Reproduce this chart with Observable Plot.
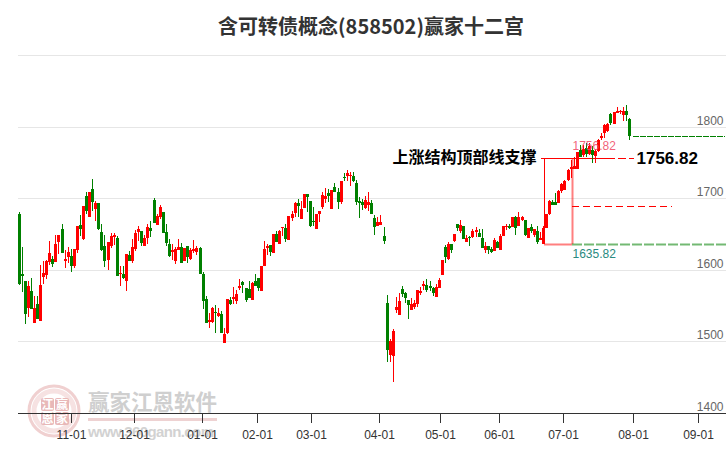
<!DOCTYPE html>
<html lang="zh">
<head>
<meta charset="utf-8">
<style>
html,body{margin:0;padding:0;background:#fff;width:726px;height:450px;overflow:hidden}
#title{height:46px;text-align:center;font:bold 20px/52px "Noto Sans CJK SC",sans-serif;color:#333;padding-left:16px;box-sizing:border-box;width:726px}
#chart{position:relative;z-index:1}
#wm{position:absolute;left:0;top:380px;z-index:0}
</style>
<script src="https://cdn.jsdelivr.net/npm/d3@7"></script>
<script src="https://cdn.jsdelivr.net/npm/@observablehq/plot@0.6"></script>
</head>
<body>
<div id="title">含可转债概念(858502)赢家十二宫</div>
<svg id="wm" width="240" height="70" viewBox="0 0 240 70">
  <circle cx="54" cy="31" r="25" fill="none" stroke="#f0d0d0" stroke-width="3"/>
  <circle cx="54" cy="31" r="20" fill="none" stroke="#f6e2e2" stroke-width="5"/>
  <g fill="#e8b8b8">
    <rect x="41" y="18" width="13" height="13" rx="2"/><rect x="55" y="18" width="14" height="13" rx="2"/>
    <rect x="41" y="32" width="13" height="13" rx="2"/><rect x="55" y="32" width="14" height="13" rx="2"/>
  </g>
  <g fill="#fff" font-family="Noto Sans CJK SC" font-size="12" font-weight="700" text-anchor="middle">
    <text x="47.5" y="29">江</text><text x="62" y="29">赢</text>
    <text x="47.5" y="43">恩</text><text x="62" y="43">家</text>
  </g>
  <text x="88" y="30" font-family="Noto Sans CJK SC" font-size="21.5" font-weight="700" fill="#cfcfcf">赢家江恩软件</text>
  <rect x="88" y="38" width="129" height="3" fill="#eed2d2"/>
  <text x="88" y="57" font-family="Liberation Sans" font-size="15" font-weight="700" fill="#d2d2d2" textLength="126">www.360gann.com</text>
</svg>
<div id="chart"></div>
<script>
const high = [1681.0,1631.7,1584.7,1584.7,1588.9,1563.8,1563.8,1606.6,1612.1,1614.0,
1640.5,1619.6,1648.9,1648.9,1664.2,1628.0,1631.7,1629.3,1629.3,1661.4,
1676.8,1689.3,1708.9,1708.9,1727.0,1695.8,1693.5,1664.2,1648.9,1639.1,
1651.7,1651.7,1647.5,1605.6,1605.6,1622.4,1626.6,1643.3,1655.9,1661.4,
1654.5,1648.9,1664.2,1668.4,1700.5,1678.2,1690.7,1681.0,1664.2,1643.3,
1636.3,1632.1,1643.3,1637.7,1630.7,1633.5,1630.7,1641.9,1633.5,1632.1,
1597.3,1563.8,1540.1,1548.4,1551.2,1547.0,1542.9,1519.1,1559.6,1562.4,
1576.4,1572.2,1587.5,1584.7,1574.9,1584.7,1583.3,1594.5,1588.9,1605.6,
1640.5,1636.3,1634.9,1650.3,1654.5,1655.9,1660.0,1664.2,1675.4,1682.4,
1694.9,1699.1,1696.3,1706.1,1706.1,1696.3,1687.9,1678.2,1682.4,1708.9,
1714.4,1713.0,1711.6,1721.4,1714.4,1724.2,1735.4,1739.6,1736.8,1736.8,
1725.6,1701.9,1699.1,1703.3,1708.9,1697.7,1676.8,1674.0,1676.8,1660.0,
1565.5,1504.0,1518.0,1562.7,1566.9,1576.7,1568.3,1558.5,1561.3,1558.5,
1571.1,1575.3,1583.7,1586.5,1583.7,1575.3,1579.5,1587.9,1613.1,1634.1,
1638.3,1635.5,1649.4,1663.4,1669.0,1660.6,1648.0,1646.7,1656.4,1659.2,
1656.4,1656.4,1638.3,1632.7,1631.3,1643.9,1639.7,1649.4,1660.6,1663.4,
1663.4,1673.2,1674.6,1680.2,1674.6,1669.0,1657.8,1663.4,1656.4,1660.6,
1652.2,1660.6,1677.9,1697.5,1698.0,1707.3,1711.9,1720.8,1725.5,1741.3,
1753.9,1757.6,1764.6,1774.9,1774.9,1777.2,1777.2,1772.5,1768.8,1782.8,
1791.2,1804.2,1805.2,1819.2,1821.0,1827.5,1823.8,1827.5,1830.8,1812.2];
const bodyTop = [1678.2,1594.0,1584.7,1577.7,1570.8,1547.0,1552.6,1579.1,1595.4,1612.1,
1623.3,1614.9,1636.3,1648.9,1657.2,1615.4,1624.7,1619.6,1629.3,1661.4,
1662.8,1689.3,1703.3,1708.9,1713.0,1693.5,1693.5,1653.0,1633.5,1639.1,
1647.5,1648.9,1644.2,1595.9,1594.5,1622.4,1620.5,1632.1,1651.7,1657.2,
1654.5,1644.7,1660.0,1658.6,1697.7,1675.4,1687.9,1681.0,1653.0,1636.3,
1628.0,1629.3,1632.1,1632.1,1630.7,1633.5,1628.0,1629.3,1630.7,1630.7,
1594.5,1559.6,1530.3,1547.0,1541.5,1540.1,1538.7,1510.8,1559.6,1558.2,
1562.4,1566.6,1577.7,1583.3,1574.9,1573.5,1581.9,1584.7,1588.9,1605.6,
1629.3,1633.5,1634.9,1650.3,1650.3,1654.5,1660.0,1658.6,1675.4,1678.2,
1693.5,1693.5,1685.1,1706.1,1706.1,1696.3,1668.4,1678.2,1682.4,1704.7,
1703.3,1707.5,1711.6,1715.8,1708.9,1724.2,1729.8,1735.4,1732.6,1731.2,
1721.4,1696.3,1694.9,1697.7,1694.9,1693.5,1672.6,1667.0,1667.0,1647.5,
1554.3,1501.2,1515.2,1547.4,1557.1,1572.5,1566.9,1558.5,1552.9,1554.3,
1571.1,1569.7,1579.5,1578.1,1576.7,1573.9,1575.3,1585.1,1613.1,1631.3,
1635.5,1635.5,1649.4,1663.4,1662.0,1660.6,1643.9,1645.3,1654.6,1655.0,
1650.8,1643.9,1632.7,1632.7,1628.5,1641.1,1638.3,1646.7,1660.6,1660.6,
1660.6,1673.2,1673.2,1673.2,1673.2,1669.0,1657.8,1659.2,1656.4,1653.6,
1643.9,1657.8,1677.9,1696.5,1695.1,1695.1,1710.5,1719.9,1724.5,1739.9,
1743.2,1745.0,1764.6,1767.9,1768.8,1770.2,1772.5,1767.9,1766.5,1780.9,
1787.4,1802.8,1803.8,1818.2,1820.1,1822.4,1822.4,1822.4,1822.4,1811.2];
const bodyBottom = [1579.6,1590.8,1537.7,1546.1,1544.7,1525.2,1530.8,1528.0,1589.8,1592.2,
1610.7,1607.5,1610.3,1638.2,1622.8,1611.7,1617.3,1604.7,1605.6,1627.0,
1656.8,1643.3,1682.8,1674.4,1694.0,1685.6,1657.2,1627.0,1611.7,1613.1,
1633.5,1646.1,1590.8,1594.5,1588.9,1583.8,1611.7,1611.7,1629.3,1652.1,
1637.7,1633.5,1644.7,1654.5,1665.6,1662.8,1674.0,1651.7,1637.7,1619.6,
1625.2,1612.6,1628.0,1609.8,1612.6,1618.2,1615.4,1626.6,1625.2,1594.5,
1555.9,1526.1,1527.5,1527.5,1540.1,1535.9,1512.2,1498.2,1512.2,1552.6,
1559.6,1556.8,1574.9,1579.1,1558.2,1561.0,1558.2,1577.7,1574.9,1570.8,
1605.6,1630.7,1625.2,1623.8,1639.1,1636.3,1658.6,1643.3,1641.9,1672.6,
1679.6,1689.3,1671.2,1686.5,1701.9,1661.4,1667.0,1657.2,1678.2,1687.9,
1699.1,1703.3,1685.1,1708.9,1694.9,1694.9,1728.4,1731.2,1731.2,1724.2,
1694.9,1693.5,1690.7,1686.5,1690.7,1678.2,1660.0,1661.4,1662.8,1640.5,
1487.7,1480.7,1479.3,1543.2,1536.6,1566.0,1561.3,1551.5,1543.2,1548.7,
1552.9,1566.9,1576.7,1571.1,1573.9,1566.9,1562.7,1573.9,1592.1,1617.3,
1614.5,1627.1,1639.6,1657.8,1653.6,1642.5,1638.3,1644.3,1645.3,1652.2,
1645.3,1629.9,1627.1,1627.1,1624.3,1625.7,1629.9,1627.1,1646.7,1659.2,
1657.8,1659.2,1657.8,1660.6,1669.0,1648.0,1643.9,1653.6,1648.0,1638.3,
1641.1,1635.5,1658.3,1677.9,1691.0,1691.0,1692.8,1709.6,1711.5,1725.0,
1740.4,1740.4,1740.4,1757.6,1760.4,1761.8,1762.3,1760.9,1759.5,1765.5,
1784.2,1791.2,1793.5,1805.2,1804.2,1819.2,1820.6,1816.4,1815.9,1787.4];
const low = [1578.2,1568.4,1523.8,1533.6,1544.7,1525.2,1530.8,1528.0,1579.6,1586.6,
1606.1,1603.3,1610.3,1621.4,1622.8,1602.8,1608.9,1597.3,1602.8,1622.8,
1647.5,1641.9,1678.2,1674.4,1682.8,1668.4,1655.9,1626.6,1604.2,1600.0,
1630.3,1634.9,1590.8,1577.7,1587.5,1570.8,1611.7,1609.8,1626.6,1640.5,
1633.5,1633.5,1636.3,1646.1,1665.6,1662.8,1671.2,1651.7,1633.5,1618.2,
1614.0,1608.4,1628.0,1609.8,1612.6,1609.8,1614.0,1623.8,1621.0,1594.5,
1545.6,1526.1,1519.1,1526.1,1512.2,1534.5,1512.2,1498.2,1510.8,1551.2,
1552.6,1552.6,1572.2,1568.0,1555.4,1561.0,1558.2,1577.7,1570.8,1570.8,
1605.6,1621.0,1619.6,1623.8,1639.1,1636.3,1647.5,1639.1,1641.9,1668.4,
1674.0,1674.0,1671.2,1686.5,1681.0,1660.0,1661.4,1657.2,1667.0,1685.1,
1693.5,1694.9,1685.1,1708.9,1685.1,1692.1,1724.2,1724.2,1717.2,1722.8,
1690.7,1672.6,1683.8,1685.1,1682.4,1678.2,1648.9,1661.4,1662.8,1636.3,
1471.8,1471.8,1443.8,1539.0,1536.6,1562.7,1554.3,1530.6,1543.2,1545.9,
1548.7,1565.5,1571.1,1568.3,1569.7,1564.1,1562.7,1573.9,1592.1,1608.9,
1613.1,1622.9,1638.3,1653.6,1650.8,1642.5,1638.3,1632.7,1643.9,1645.3,
1645.3,1629.9,1622.9,1621.5,1622.9,1625.7,1629.9,1627.1,1646.7,1655.0,
1656.4,1659.2,1648.0,1660.6,1667.6,1646.7,1643.9,1650.8,1645.3,1635.5,
1641.1,1635.5,1658.3,1677.0,1690.0,1690.0,1692.8,1706.8,1711.5,1723.6,
1728.2,1740.4,1740.4,1757.6,1757.6,1757.6,1760.9,1749.2,1749.2,1764.1,
1780.9,1784.2,1792.1,1802.8,1804.2,1819.2,1818.2,1807.5,1807.5,1780.9];
// R = close above open (red), G = close below open (green)
const direction = "GGGRGRGRRR"+"RGRRGRRGRR"+"GRGRGRGGGR"+"RRGRGRGRRR"+"GRRGGRRGGG"+"RRRGRGRRRG"+"GGRRGRGRRG"+"RRRGGGRGGR"+"RRGRGRRGRR"+"RGRRGGGRRR"
  +"RGRGGRGRRG"+"GGGRRGGRRG"+"GRRRRGGGRR"+"RRRGGGRRRG"+"RGRGRGRGRR"+"GGRGGRGRRR"+"GRGRRGRGRG"+"RRRRGGRRRR"+"RRRGRGRGRR"+"RRRGRRRRGG";

const monthLabels = ["11-01","12-01","01-01","02-01","03-01","04-01","05-01","06-01","07-01","08-01","09-01"];
const monthIndex = [17.1,37.6,59.8,77.7,95.3,117.5,137.4,156.6,177.5,200.3,221.5];
const priceTicks = [1800,1700,1600,1500,1400];
const gridPrices = [1900,1800,1700,1600,1500];

const topPrice = 1756.82, midPrice = 1689.3, basePrice = 1635.82, lastClose = 1787.4;
const xLeft = 171.3, xRight = 180.5;

const idx = d3.range(high.length);
const colorOf = i => direction[i] === "R" ? "#ff0000" : "#008000";
const monthName = new Map(monthIndex.map((m,i)=>[m,monthLabels[i]]));

const plot = Plot.plot({
  width:726, height:404,
  marginTop:0, marginLeft:0, marginRight:0, marginBottom:37,
  style:{fontFamily:'"Liberation Sans",sans-serif', fontSize:"12px", background:"transparent"},
  x:{domain:[-6.065,230.67], range:[0,726], round:true},
  y:{domain:[1400,1900], range:[367,9], round:true, axis:null},
  color:{type:"identity"},
  marks:[
    Plot.ruleY(gridPrices,{x1:-0.2,x2:230.67,stroke:"#e6e6e6",strokeWidth:1}),

    // structure box
    Plot.ruleX([xLeft],{y1:basePrice,y2:topPrice,stroke:"#ff0000",strokeWidth:1}),
    Plot.ruleX([xRight],{y1:basePrice,y2:topPrice,stroke:"#ff0000",strokeOpacity:0.5,strokeWidth:2}),
    Plot.ruleY([basePrice],{x1:xLeft,x2:xRight,stroke:"#ff0000",strokeOpacity:0.5,strokeWidth:2}),
    Plot.ruleY([topPrice],{x1:170.4,x2:192,stroke:"#ff0000",strokeWidth:1}),
    Plot.ruleY([topPrice],{x1:192,x2:200.7,stroke:"#ff0000",strokeWidth:1,strokeDasharray:"8,3"}),
    Plot.ruleY([midPrice],{x1:xRight,x2:213.1,stroke:"#ff0000",strokeWidth:1,strokeDasharray:"7,4"}),
    Plot.ruleY([basePrice],{x1:xRight,x2:230.67,stroke:"#008000",strokeOpacity:0.55,strokeWidth:2,strokeDasharray:"10,2"}),
    Plot.ruleY([lastClose],{x1:200.2,x2:230.2,stroke:"#008000",strokeWidth:1,strokeDasharray:"6,1"}),

    Plot.ruleX(idx,{x:i=>i,y1:i=>low[i],y2:i=>high[i],stroke:colorOf,strokeWidth:1}),
    Plot.ruleX(idx,{x:i=>i,y1:i=>bodyBottom[i],y2:i=>bodyTop[i],stroke:colorOf,strokeWidth:3}),

    Plot.text(["1756.82"],{x:180.5,y:1772.5,text:d=>d,textAnchor:"start",fill:"#f0506a",fillOpacity:0.9,fontSize:12}),
    Plot.text(["1635.82"],{x:180.5,y:1622.5,text:d=>d,textAnchor:"start",fill:"#2a8a80",fontSize:12}),
    Plot.text(["1756.82"],{x:201.4,y:1756.82,text:d=>d,textAnchor:"start",fill:"#000",fontSize:17,fontWeight:"bold"}),
    Plot.text(["上涨结构顶部线支撑"],{x:168.8,y:1757,text:d=>d,textAnchor:"end",fill:"#000",fontSize:16,fontWeight:"bold",fontFamily:'"Noto Sans CJK SC",sans-serif'}),

    Plot.text(priceTicks,{x:229.7,y:d=>d,dy:-6,text:d=>String(d),textAnchor:"end",fill:"#666",fontSize:12}),

    Plot.ruleY([1400],{x1:-0.2,x2:230.67,stroke:"#333",strokeWidth:1}),
    Plot.axisX({ticks:monthIndex,tickSize:10,tickPadding:7,tickFormat:d=>monthName.get(d),label:null,stroke:"#333",color:"#333",fontSize:12})
  ]
});
document.getElementById("chart").appendChild(plot);
</script>
</body>
</html>
